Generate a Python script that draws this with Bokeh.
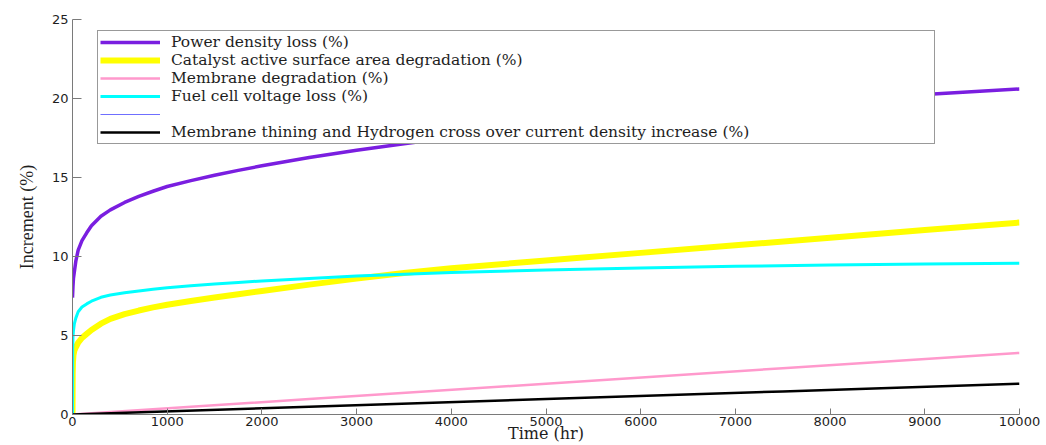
from bokeh.plotting import figure
from bokeh.models import Range1d, FixedTicker, Legend, LegendItem
from bokeh.embed import file_html
from bokeh.resources import INLINE

# ---- data ----
hours = [0, 2, 5, 10, 20, 35, 60, 100, 150, 200, 300, 400, 550, 700, 850, 1000,
         1250, 1500, 1750, 2000, 2500, 3000, 3500, 4000, 5000, 6000, 7000, 8000, 9000, 10000]
power_density_loss = [7.4, 7.7, 8.1, 8.6, 9.05, 9.7, 10.4, 11.0, 11.5, 11.95, 12.55, 12.95, 13.42, 13.8, 14.13, 14.43,
                      14.8, 15.14, 15.45, 15.74, 16.26, 16.72, 17.14, 17.53, 18.24, 18.85, 19.4, 19.85, 20.25, 20.6]
catalyst_degradation = [0.0, 2.6, 3.3, 3.75, 4.05, 4.25, 4.55, 4.85, 5.1, 5.35, 5.75, 6.05, 6.35, 6.58, 6.78, 6.95,
                        7.18, 7.4, 7.61, 7.82, 8.22, 8.6, 8.95, 9.26, 9.75, 10.23, 10.71, 11.19, 11.67, 12.15]
voltage_loss = [0.0, 4.2, 4.9, 5.3, 5.75, 6.1, 6.5, 6.8, 7.0, 7.17, 7.42, 7.56, 7.7, 7.82, 7.92, 8.02,
                8.15, 8.26, 8.36, 8.45, 8.61, 8.76, 8.88, 8.99, 9.15, 9.28, 9.38, 9.46, 9.52, 9.58]
hours_linear = [0, 2500, 5000, 7500, 10000]
membrane_degradation = [0.0, 0.98, 1.95, 2.93, 3.9]
crossover_increase = [0.0, 0.49, 0.98, 1.46, 1.95]
unlabeled_series = [float("nan")]

x_ticks = [0, 1000, 2000, 3000, 4000, 5000, 6000, 7000, 8000, 9000, 10000]
y_ticks = [0, 5, 10, 15, 20, 25]

legend_labels = [
    "Power density loss (%)",
    "Catalyst active surface area degradation (%)",
    "Membrane degradation (%)",
    "Fuel cell voltage loss (%)",
    "",
    "Membrane thining and Hydrogen cross over current density increase (%)",
]
x_title = "Time (hr)"
y_title = "Increment (%)"

# ---- figure ----
p = figure(width=1046, height=445, output_backend="svg", toolbar_location=None,
           x_range=Range1d(0, 10000), y_range=Range1d(0, 25),
           min_border_left=72, min_border_right=27, min_border_top=19, min_border_bottom=31)
p.outline_line_color = None
p.xgrid.visible = False
p.ygrid.visible = False
p.background_fill_color = "white"
p.border_fill_color = "white"

for ax in (p.xaxis[0], p.yaxis[0]):
    ax.axis_line_color = "#7a7a7a"
    ax.major_tick_line_color = "#7a7a7a"
    ax.minor_tick_line_color = None
    ax.major_tick_out = 0
    ax.major_label_text_font = "DejaVu Sans"
    ax.major_label_text_font_size = "13px"
    ax.major_label_text_color = "#1e1e1e"
    ax.axis_label_text_font_style = "normal"
    ax.axis_label_text_color = "#1e1e1e"

p.xaxis.major_label_standoff = 2
p.yaxis.major_label_standoff = 4
p.xaxis.ticker = FixedTicker(ticks=x_ticks)
p.yaxis.ticker = FixedTicker(ticks=y_ticks)
p.xaxis.major_tick_in = 6
p.yaxis.major_tick_in = 9

p.xaxis.axis_label = x_title
p.xaxis.axis_label_text_font = "DejaVu Serif"
p.xaxis.axis_label_text_font_size = "16px"
p.xaxis.axis_label_standoff = -5

p.yaxis.axis_label = y_title
p.yaxis.axis_label_text_font = "Liberation Serif"
p.yaxis.axis_label_text_font_size = "18px"
p.yaxis.axis_label_standoff = 12

r_power = p.line(hours, power_density_loss, line_color="#7a1ee0", line_width=3.5, line_join="round")
r_cat = p.line(hours, catalyst_degradation, line_color="#ffff00", line_width=6, line_join="round")
r_mem = p.line(hours_linear, membrane_degradation, line_color="#ff99cc", line_width=2.5)
r_volt = p.line(hours, voltage_loss, line_color="#00ffff", line_width=3, line_join="round")
r_blank = p.line(x=unlabeled_series, y=unlabeled_series, line_color="#6f6fff", line_width=1)
r_cross = p.line(hours_linear, crossover_increase, line_color="#000000", line_width=2.5)

renderers = [r_power, r_cat, r_mem, r_volt, r_blank, r_cross]
legend = Legend(
    items=[LegendItem(label=lab, renderers=[r]) for lab, r in zip(legend_labels, renderers)],
    location=(25, 270),
    padding=2, spacing=0, margin=0,
    glyph_width=60, glyph_height=18, label_height=18,
    label_standoff=11, label_width=761,
    label_text_font="DejaVu Serif", label_text_font_size="15.5px", label_text_color="#1e1e1e",
    border_line_color="#333333", border_line_width=1,
    background_fill_color="white", background_fill_alpha=1.0,
)
p.add_layout(legend)

open("out.html", "w").write(file_html(p, INLINE))
